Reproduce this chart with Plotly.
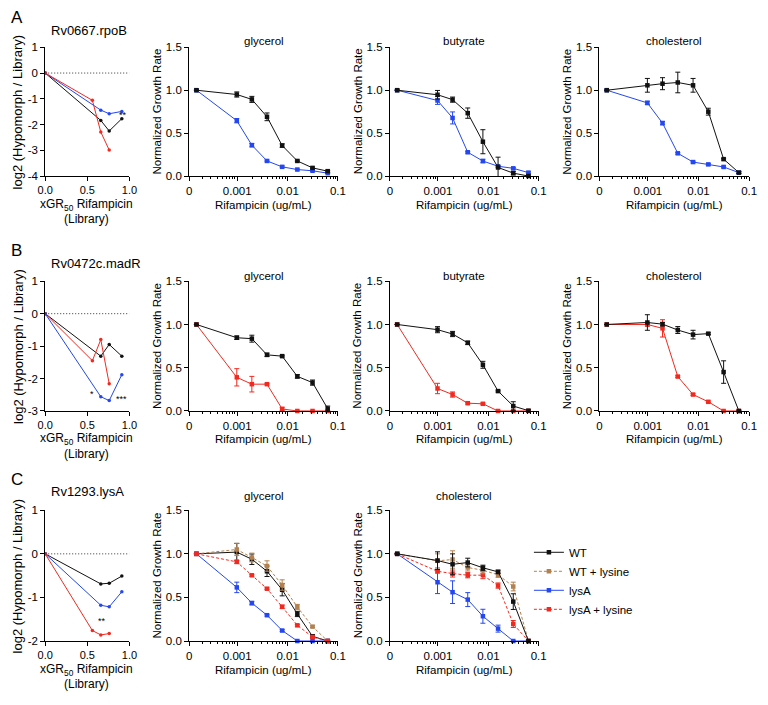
import math
import plotly.graph_objects as go

W, H = 768, 705
FONT = "Liberation Sans, Arial, Helvetica, sans-serif"

# ---------------- data ----------------
# left panels: x = xGR50 rifampicin (library), y = log2(hypomorph/library)
xgr = [0, 0.56, 0.66, 0.76, 0.91]
A_black = [0, None, -1.84, -2.25, -1.77]
A_blue = [0, None, -1.44, -1.58, -1.49]
A_red = [0, -1.06, -2.29, -2.99, None]
B_black = [0, None, -1.31, -0.95, -1.31]
B_red = [0, -1.45, -0.80, -2.16, None]
B_blue = [0, None, -2.56, -2.68, -1.88]
C_black = [0, None, -0.69, -0.675, -0.51]
C_blue = [0, None, -1.18, -1.215, -0.87]
C_red = [0, -1.76, -1.86, -1.83, None]

# growth curves: rifampicin concentration (ug/mL)
conc = [0, 0.00098, 0.00195, 0.0039, 0.0078, 0.0156, 0.03125, 0.0625]
conc_tick_labels = ["0", "0.001", "0.01", "0.1"]
ZERO_POS = 0.000155   # display position used for the 0 concentration on the log axis
ZERO_TICK = 0.000111  # position of the "0" tick label

A_gly_wt = [1.0, 0.95, 0.893, 0.69, 0.355, 0.176, 0.095, 0.057]
A_gly_wt_err = [0, 0.03, 0.035, 0.045, 0.02, 0.01, 0.01, 0.01]
A_gly_hyp = [1.0, 0.645, 0.36, 0.176, 0.107, 0.076, 0.061, 0.034]
A_gly_hyp_err = [0, 0.025, 0.02, 0.01, 0.01, 0.005, 0.005, 0.005]
A_but_wt = [1.0, 0.947, 0.89, 0.733, 0.40, 0.10, 0.034, 0.0]
A_but_wt_err = [0, 0.05, 0.03, 0.06, 0.14, 0.12, 0.02, 0.01]
A_but_hyp = [1.0, 0.88, 0.677, 0.277, 0.175, 0.114, 0.09, 0.04]
A_but_hyp_err = [0, 0.045, 0.07, 0.01, 0.02, 0.01, 0.01, 0.01]
A_cho_wt = [1.0, 1.057, 1.076, 1.09, 1.057, 0.75, 0.197, 0.04]
A_cho_wt_err = [0, 0.08, 0.07, 0.12, 0.08, 0.04, 0.01, 0.01]
A_cho_hyp = [1.0, 0.852, 0.617, 0.265, 0.163, 0.136, 0.106, 0.04]
A_cho_hyp_err = [0, 0.02, 0.02, 0.01, 0.01, 0.01, 0.01, 0.01]

B_gly_wt = [1.0, 0.847, 0.836, 0.649, 0.634, 0.40, 0.328, 0.027]
B_gly_wt_err = [0, 0.02, 0.04, 0.02, 0.01, 0.02, 0.03, 0.03]
B_gly_hyp = [1.0, 0.389, 0.31, 0.31, 0.023, 0.0, 0.0, 0.0]
B_gly_hyp_err = [0, 0.10, 0.09, 0.01, 0.02, 0, 0, 0]
B_but_wt = [1.0, 0.94, 0.89, 0.788, 0.534, 0.23, 0.057, 0.004]
B_but_wt_err = [0, 0.035, 0.03, 0.02, 0.04, 0.01, 0.05, 0.01]
B_but_hyp = [1.0, 0.26, 0.19, 0.09, 0.083, 0.0, 0.0, 0.0]
B_but_hyp_err = [0, 0.06, 0.03, 0.01, 0.01, 0, 0, 0]
B_cho_wt = [1.0, 1.023, 1.004, 0.936, 0.883, 0.894, 0.45, 0.0]
B_cho_wt_err = [0, 0.09, 0.02, 0.04, 0.05, 0.01, 0.13, 0.01]
B_cho_hyp = [1.0, 1.0, 0.955, 0.398, 0.19, 0.106, 0.0, 0.0]
B_cho_hyp_err = [0, 0.02, 0.10, 0.01, 0.01, 0.01, 0, 0]

C_gly_wt = [1.0, 1.02, 0.938, 0.80, 0.588, 0.31, 0.054, 0.0]
C_gly_wt_err = [0, 0.10, 0.06, 0.06, 0.07, 0.03, 0.02, 0.01]
C_gly_wtlys = [1.0, 1.05, 0.958, 0.86, 0.642, 0.39, 0.165, 0.0]
C_gly_wtlys_err = [0, 0.07, 0.05, 0.06, 0.06, 0.03, 0.01, 0.01]
C_gly_lysA = [1.0, 0.615, 0.435, 0.296, 0.12, 0.0, 0.0, 0.0]
C_gly_lysA_err = [0, 0.06, 0.02, 0.01, 0.01, 0, 0, 0]
C_gly_lysAlys = [1.0, 0.908, 0.754, 0.60, 0.392, 0.18, 0.046, 0.0]
C_gly_lysAlys_err = [0, 0.02, 0.01, 0.01, 0.02, 0.01, 0.01, 0.01]
C_cho_wt = [1.0, 0.923, 0.88, 0.90, 0.84, 0.793, 0.452, 0.0]
C_cho_wt_err = [0, 0.10, 0.12, 0.05, 0.03, 0.02, 0.09, 0.01]
C_cho_wtlys = [1.0, 0.92, 0.935, 0.843, 0.812, 0.76, 0.625, 0.0]
C_cho_wtlys_err = [0, 0.08, 0.10, 0.04, 0.04, 0.03, 0.05, 0.01]
C_cho_lysA = [1.0, 0.674, 0.56, 0.475, 0.284, 0.142, 0.0, 0.0]
C_cho_lysA_err = [0, 0.13, 0.13, 0.08, 0.08, 0.04, 0, 0]
C_cho_lysAlys = [1.0, 0.80, 0.774, 0.755, 0.755, 0.636, 0.195, 0.0]
C_cho_lysAlys_err = [0, 0.02, 0.04, 0.03, 0.04, 0.03, 0.04, 0.01]

legend_names = ["WT", "WT + lysine", "lysA", "lysA + lysine"]

# ---------------- style ----------------
BLACK = "#111111"
BLUE = "#2447F2"
RED = "#F2291F"
BROWN = "#B3814F"

cols = {1: (38, 124), 2: (185, 337), 3: (390, 542), 4: (604, 757)}
rows = {"A": (42, 173), "B": (280, 412), "C": (513, 646)}


def dom_x(c):
    a, b = cols[c]
    return [a / W, b / W]


def dom_y(r):
    t, b = rows[r]
    return [1 - b / H, 1 - t / H]


def base_axis(size=11.5, **kw):
    d = dict(showline=True, linecolor="black", linewidth=1, ticks="outside",
             ticklen=4, tickwidth=1, tickcolor="black", showgrid=False,
             zeroline=False, fixedrange=True,
             tickfont=dict(family=FONT, size=size, color="black"))
    d.update(kw)
    return d


minor_vals = [k * 10 ** e for e in (-4, -3, -2) for k in range(2, 10) if k * 10 ** e > ZERO_TICK]
xplot = [ZERO_POS if c == 0 else c for c in conc]

fig = go.Figure()
layout = {}
annotations = []
shapes = []

panels = [
    (1, "A", 1, "left", -4), (2, "A", 2, "g", None), (3, "A", 3, "g", None), (4, "A", 4, "g", None),
    (5, "B", 1, "left", -3), (6, "B", 2, "g", None), (7, "B", 3, "g", None), (8, "B", 4, "g", None),
    (9, "C", 1, "left", -2), (10, "C", 2, "g", None), (11, "C", 3, "g", None),
]

for idx, r, c, kind, ymin in panels:
    xn = "xaxis" if idx == 1 else f"xaxis{idx}"
    yn = "yaxis" if idx == 1 else f"yaxis{idx}"
    xa = "x" if idx == 1 else f"x{idx}"
    ya = "y" if idx == 1 else f"y{idx}"
    if kind == "left":
        yv = list(range(1, ymin - 1, -1))
        layout[xn] = base_axis(size=11, domain=dom_x(c), anchor=ya, range=[0, 1.0],
                               tickmode="array", tickvals=[0, 0.5, 1.0],
                               ticktext=["0.0", "0.5", "1.0"])
        layout[yn] = base_axis(domain=dom_y(r), anchor=xa, range=[ymin, 1],
                               tickmode="array", tickvals=yv,
                               ticktext=[str(v) for v in yv])
        shapes.append(dict(type="line", xref=xa, yref=ya, x0=0, x1=1.0, y0=0, y1=0,
                           line=dict(color="#333333", width=1, dash="1px,2px")))
    else:
        layout[xn] = base_axis(domain=dom_x(c), anchor=ya, type="log",
                               range=[math.log10(ZERO_TICK), -1.0],
                               tickmode="array", tickvals=[ZERO_TICK, 0.001, 0.01, 0.1],
                               ticktext=conc_tick_labels,
                               minor=dict(tickmode="array", tickvals=minor_vals, ticks="outside",
                                          ticklen=2, tickwidth=1, tickcolor="black", showgrid=False))
        layout[yn] = base_axis(domain=dom_y(r), anchor=xa, range=[0, 1.5],
                               tickmode="array", tickvals=[0, 0.5, 1.0, 1.5],
                               ticktext=["0.0", "0.5", "1.0", "1.5"])


def ax(idx):
    return ("x" if idx == 1 else f"x{idx}", "y" if idx == 1 else f"y{idx}")


def left_trace(idx, y, color):
    xa, ya = ax(idx)
    fig.add_trace(go.Scatter(x=xgr, y=y, xaxis=xa, yaxis=ya, mode="lines+markers",
                             connectgaps=True, showlegend=False,
                             line=dict(color=color, width=1),
                             marker=dict(color=color, size=3.5, symbol="circle")))


def growth_trace(idx, y, err, color, dash="solid", name=None, legend=False, symbol="square"):
    xa, ya = ax(idx)
    fig.add_trace(go.Scatter(x=xplot, y=y, xaxis=xa, yaxis=ya, mode="lines+markers",
                             name=name, showlegend=legend, cliponaxis=False,
                             line=dict(color=color, width=1, dash=dash),
                             marker=dict(color=color, size=4.5, symbol=symbol),
                             error_y=dict(type="data", array=err, visible=True,
                                          color=color, thickness=1, width=2.5)))


# Row A
left_trace(1, A_black, BLACK)
left_trace(1, A_blue, BLUE)
left_trace(1, A_red, RED)
growth_trace(2, A_gly_hyp, A_gly_hyp_err, BLUE)
growth_trace(2, A_gly_wt, A_gly_wt_err, BLACK)
growth_trace(3, A_but_hyp, A_but_hyp_err, BLUE)
growth_trace(3, A_but_wt, A_but_wt_err, BLACK)
growth_trace(4, A_cho_hyp, A_cho_hyp_err, BLUE)
growth_trace(4, A_cho_wt, A_cho_wt_err, BLACK)
# Row B
left_trace(5, B_black, BLACK)
left_trace(5, B_red, RED)
left_trace(5, B_blue, BLUE)
growth_trace(6, B_gly_hyp, B_gly_hyp_err, RED)
growth_trace(6, B_gly_wt, B_gly_wt_err, BLACK)
growth_trace(7, B_but_hyp, B_but_hyp_err, RED)
growth_trace(7, B_but_wt, B_but_wt_err, BLACK)
growth_trace(8, B_cho_hyp, B_cho_hyp_err, RED)
growth_trace(8, B_cho_wt, B_cho_wt_err, BLACK)
# Row C
left_trace(9, C_black, BLACK)
left_trace(9, C_blue, BLUE)
left_trace(9, C_red, RED)
growth_trace(10, C_gly_wt, C_gly_wt_err, BLACK, name=legend_names[0], legend=True)
growth_trace(10, C_gly_wtlys, C_gly_wtlys_err, BROWN, dash="3px,2px", name=legend_names[1], legend=True)
growth_trace(10, C_gly_lysA, C_gly_lysA_err, BLUE, name=legend_names[2], legend=True)
growth_trace(10, C_gly_lysAlys, C_gly_lysAlys_err, RED, dash="3px,2px", name=legend_names[3], legend=True)
growth_trace(11, C_cho_lysA, C_cho_lysA_err, BLUE)
growth_trace(11, C_cho_lysAlys, C_cho_lysAlys_err, RED, dash="3px,2px")
growth_trace(11, C_cho_wtlys, C_cho_wtlys_err, BROWN, dash="3px,2px")
growth_trace(11, C_cho_wt, C_cho_wt_err, BLACK)


def txt(x, y, text, size=12, xanchor="center", angle=0, xref="paper", yref="paper", px=True):
    if px and xref == "paper":
        x = x / W
    if px and yref == "paper":
        y = 1 - y / H
    annotations.append(dict(x=x, y=y, xref=xref, yref=yref, text=text, showarrow=False,
                            xanchor=xanchor, yanchor="middle", textangle=angle,
                            font=dict(family=FONT, size=size, color="black")))


# panel letters
txt(9, 12, "A", size=17)
txt(9, 249, "B", size=17)
txt(9, 482, "C", size=17)

left_titles = {"A": "Rv0667.rpoB", "B": "Rv0472c.madR", "C": "Rv1293.lysA"}
carbon = {("A", 2): "glycerol", ("A", 3): "butyrate", ("A", 4): "cholesterol",
          ("B", 2): "glycerol", ("B", 3): "butyrate", ("B", 4): "cholesterol",
          ("C", 2): "glycerol", ("C", 3): "cholesterol"}
title_y = {"A": 36, "B": 275, "C": 498}
left_title_y = {"A": 25, "B": 262, "C": 494}
for r in ("A", "B", "C"):
    t, b = rows[r]
    txt(42, left_title_y[r], left_titles[r], size=13, xanchor="left")
    txt(10, (t + b) / 2, "log2 (Hypomorph / Library)", size=13, angle=-90)
    txt(80, b + 29, "xGR<sub>50</sub> Rifampicin", size=12)
    txt(80, b + 44, "(Library)", size=12)
for (r, c), name in carbon.items():
    t, b = rows[r]
    a, e = cols[c]
    txt((a + e) / 2, title_y[r], name, size=11.5)
    txt((a + e) / 2, b + 29, "Rifampicin (ug/mL)", size=11.5)
    txt(a - 33, (t + b) / 2, "Normalized Growth Rate", size=11.5, angle=-90)

# significance marks (data coordinates)
txt(0.92, -1.62, "**", size=9, xref="x", yref="y", px=False)
txt(0.55, -2.47, "*", size=9, xref="x5", yref="y5", px=False)
txt(0.91, -2.62, "***", size=9, xref="x5", yref="y5", px=False)
txt(0.68, -1.55, "**", size=9, xref="x9", yref="y9", px=False)

fig.update_layout(
    width=W, height=H, margin=dict(l=0, r=0, t=0, b=0),
    paper_bgcolor="white", plot_bgcolor="white",
    font=dict(family=FONT, size=11, color="black"),
    annotations=annotations, shapes=shapes,
    legend=dict(x=532 / W, y=1 - 541 / H, xanchor="left", yanchor="top",
                font=dict(family=FONT, size=11.5, color="black"),
                bgcolor="rgba(0,0,0,0)", itemwidth=30, tracegroupgap=0),
    **layout,
)

fig.write_html("out.html", config={"displayModeBar": False},
               post_script="document.body.style.margin='0';document.body.style.overflow='hidden';")
